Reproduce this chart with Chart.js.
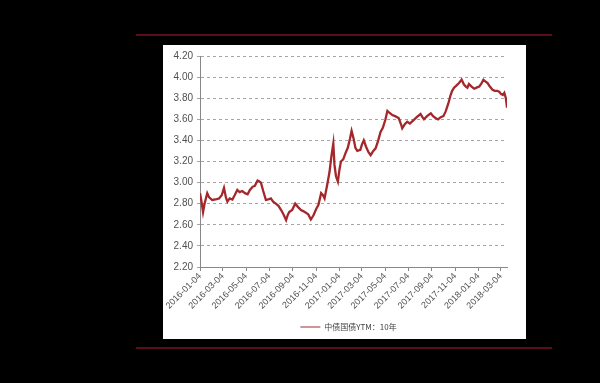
<!DOCTYPE html>
<html><head><meta charset="utf-8">
<script src="https://cdn.jsdelivr.net/npm/chart.js@4"></script>
<style>
html,body{margin:0;padding:0;background:#000;width:600px;height:383px;overflow:hidden;}
#topline{position:absolute;left:136px;top:34px;width:416px;height:2px;background:#5a0d1a;}
#botline{position:absolute;left:136px;top:347px;width:416px;height:2px;background:#5a0d1a;}
#panel{position:absolute;left:163px;top:45px;width:363px;height:294px;background:#fff;}
canvas{display:block;}
</style></head><body>
<div id="topline"></div><div id="botline"></div>
<div id="panel"><canvas id="c" width="363" height="294"></canvas></div>
<script>
const seriesName = '中债国债YTM：10年';
const tickLabels = ['2016-01-04','2016-03-04','2016-05-04','2016-07-04','2016-09-04','2016-11-04',
  '2017-01-04','2017-03-04','2017-05-04','2017-07-04','2017-09-04','2017-11-04','2018-01-04','2018-03-04'];
const dates = ['2016-01-04','2016-01-08','2016-01-12','2016-01-16','2016-01-23','2016-01-28','2016-02-05','2016-02-14',
'2016-02-23','2016-03-01','2016-03-07','2016-03-12','2016-03-16','2016-03-22','2016-03-29','2016-04-04','2016-04-11',
'2016-04-17','2016-04-24','2016-05-01','2016-05-08','2016-05-14','2016-05-21','2016-05-27','2016-06-03','2016-06-08',
'2016-06-12','2016-06-18','2016-06-25','2016-07-01','2016-07-08','2016-07-14','2016-07-21','2016-07-28','2016-08-04',
'2016-08-10','2016-08-17','2016-08-21','2016-08-25','2016-09-02','2016-09-10','2016-09-17','2016-09-25','2016-10-01',
'2016-10-08','2016-10-14','2016-10-21','2016-10-28','2016-11-04','2016-11-10','2016-11-17','2016-11-22','2016-11-26',
'2016-12-03','2016-12-09','2016-12-14','2016-12-19','2016-12-22','2016-12-26','2016-12-31','2017-01-04','2017-01-08',
'2017-01-14','2017-01-20','2017-01-26','2017-02-01','2017-02-05','2017-02-10','2017-02-15','2017-02-20','2017-02-28',
'2017-03-04','2017-03-09','2017-03-15','2017-03-21','2017-03-27','2017-04-03','2017-04-09','2017-04-16','2017-04-22',
'2017-04-28','2017-05-05','2017-05-10','2017-05-16','2017-05-23','2017-05-30','2017-06-05','2017-06-09','2017-06-14',
'2017-06-18','2017-06-24','2017-07-01','2017-07-08','2017-07-17','2017-07-26','2017-08-05','2017-08-10','2017-08-14',
'2017-08-22','2017-09-01','2017-09-07','2017-09-14','2017-09-20','2017-09-27','2017-10-04','2017-10-10','2017-10-17',
'2017-10-23','2017-10-27','2017-11-01','2017-11-07','2017-11-14','2017-11-21','2017-11-27','2017-12-02','2017-12-06',
'2017-12-10','2017-12-17','2017-12-24','2017-12-30','2018-01-06','2018-01-12','2018-01-17','2018-01-22','2018-01-28',
'2018-02-03','2018-02-10','2018-02-16','2018-02-23','2018-02-28','2018-03-04','2018-03-09','2018-03-13','2018-03-17',
'2018-03-20'];
const ytm = [2.90,2.82,2.72,2.80,2.90,2.86,2.835,2.84,
2.85,2.88,2.95,2.86,2.82,2.85,2.84,2.88,2.93,
2.91,2.92,2.90,2.89,2.93,2.96,2.97,3.02,3.01,
3.00,2.92,2.835,2.84,2.85,2.82,2.80,2.78,2.74,
2.70,2.645,2.69,2.72,2.74,2.80,2.77,2.74,2.73,
2.715,2.70,2.65,2.69,2.75,2.79,2.90,2.88,2.85,
2.98,3.10,3.25,3.37,3.17,3.06,3.01,3.12,3.20,
3.22,3.28,3.33,3.42,3.49,3.42,3.33,3.30,3.31,
3.36,3.40,3.34,3.29,3.26,3.30,3.325,3.40,3.48,
3.52,3.60,3.68,3.66,3.64,3.63,3.62,3.61,3.56,
3.515,3.55,3.577,3.56,3.59,3.62,3.65,3.62,3.60,
3.63,3.657,3.63,3.61,3.60,3.62,3.63,3.675,3.75,
3.83,3.87,3.90,3.92,3.944,3.975,3.93,3.91,3.90,
3.935,3.91,3.89,3.90,3.91,3.94,3.975,3.96,3.944,
3.91,3.88,3.87,3.87,3.86,3.84,3.83,3.85,3.80,
3.71];
const yTicks = [2.20,2.40,2.60,2.80,3.00,3.20,3.40,3.60,3.80,4.00,4.20];

const DAY = 86400000;
const base = Date.parse(tickLabels[0]);
const dayOf = s => Math.round((Date.parse(s) - base) / DAY);
const points = dates.map((d, i) => ({x: dayOf(d), y: ytm[i]}));
const tickDays = tickLabels.map(dayOf);
const lineColor = '#a3272b';

new Chart(document.getElementById('c'), {
  type: 'line',
  data: { datasets: [{
    label: seriesName, data: points,
    borderColor: lineColor, backgroundColor: lineColor,
    borderWidth: 2.3, pointRadius: 0, tension: 0
  }]},
  options: {
    responsive: false, animation: false,
    layout: { padding: { left: 8, right: 0, top: 11, bottom: -2 } },
    plugins: {
      legend: { position: 'bottom',
        labels: { boxWidth: 20, boxHeight: 1, padding: 2, color: '#404040',
          font: { family: '"Noto Sans CJK SC", "Liberation Sans", sans-serif', size: 8 },
          generateLabels: chart => Chart.defaults.plugins.legend.labels.generateLabels(chart)
            .map(l => Object.assign(l, { lineWidth: 0, fillStyle: lineColor })) } },
      tooltip: { enabled: false }
    },
    scales: {
      x: { type: 'linear', min: 0, max: dayOf(dates[dates.length - 1]),
        afterBuildTicks: s => { s.ticks = tickDays.map(v => ({value: v})); },
        afterFit: s => { s.height = 54; },
        grid: { drawOnChartArea: false, color: '#888', tickLength: 4 },
        border: { color: '#888', width: 1 },
        ticks: { autoSkip: false, maxRotation: 45, minRotation: 45, padding: 0, color: '#505050',
          font: { family: '"Liberation Sans", Arial, sans-serif', size: 9 },
          callback: v => { const i = tickDays.indexOf(v); return i >= 0 ? tickLabels[i] : ''; } }
      },
      y: { min: 2.2, max: 4.2,
        afterBuildTicks: s => { s.ticks = yTicks.map(v => ({value: v})); },
        afterFit: s => { s.width = 29; },
        grid: { color: '#a6a6a6', tickLength: 3 },
        border: { color: '#888', dash: [3,3], display: true },
        ticks: { padding: 4, color: '#505050',
          font: { family: '"Liberation Sans", Arial, sans-serif', size: 10 },
          callback: v => v.toFixed(2) }
      },
      yRight: { position: 'right', min: 0, max: 1,
        afterFit: s => { s.width = 19; },
        grid: { display: false }, border: { display: false }, ticks: { display: false }
      }
    }
  }
});
</script>
</body></html>
